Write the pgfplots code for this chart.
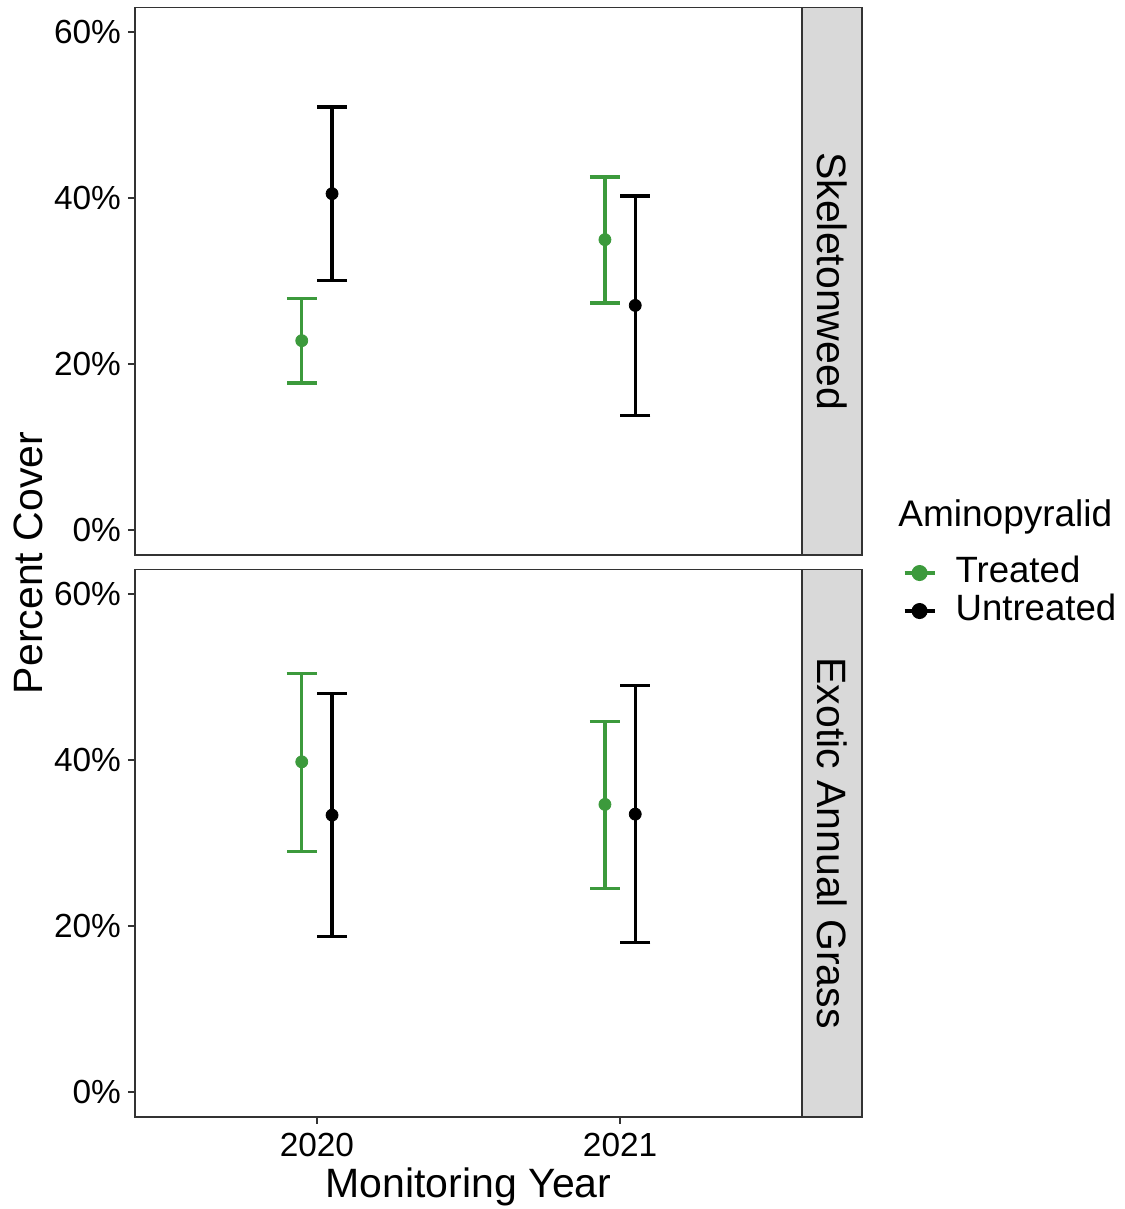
\documentclass[border=0pt]{standalone}
\usepackage{pgfplots}
\usepackage{pgfplotstable}
\pgfplotsset{compat=1.18}
\usepackage{fontspec}
\setmainfont{Liberation Sans}
\definecolor{cgreen}{HTML}{3C9A3C}
\definecolor{grey20}{HTML}{333333}
\definecolor{grey85}{HTML}{D9D9D9}
\pgfplotstableread{
x y lo hi
0.95 22.82 17.73 27.88
1.95 34.99 27.36 42.54
}\topT
\pgfplotstableread{
x y lo hi
1.05 40.53 30.05 50.97
2.05 27.07 13.79 40.25
}\topU
\pgfplotstableread{
x y lo hi
0.95 39.79 28.95 50.44
1.95 34.66 24.50 44.69
}\botT
\pgfplotstableread{
x y lo hi
1.05 33.37 18.72 48.03
2.05 33.49 17.99 48.99
}\botU
\tikzset{strip/.style={font=\fontsize{20.5}{22}\selectfont}}
\begin{document}
\begin{tikzpicture}
\path[use as bounding box] (-67.5pt,-46pt) rectangle (494.5pt,558.5pt);
\pgfplotsset{
  panel/.style={
    width=333.5pt, height=273.9pt, scale only axis,
    xmin=0.4, xmax=2.6, ymin=-3, ymax=63,
    axis line style={grey20, line width=0.6pt},
    tick style={grey20, line width=0.6pt},
    major tick length=3.5pt,
    tick align=outside,
    xtick pos=bottom, ytick pos=left,
    ytick={0,20,40,60},
    yticklabels={0\%,20\%,40\%,60\%},
    tick label style={font=\fontsize{16.7}{18}\selectfont, text=black},
    clip=false,
  },
  errs/.style={
    only marks, mark=*, mark size=3pt, line width=1.6pt, color=#1,
    mark options={solid, line width=0.4pt, fill=#1, draw=#1},
    error bars/y dir=both, error bars/y explicit,
    error bars/error bar style={line width=1.6pt, color=#1},
    error bars/error mark options={line width=1.6pt, mark size=7.5pt, color=#1, rotate=90},
  },
}
% top panel
\begin{axis}[panel, at={(0,281pt)}, anchor=south west, xtick=\empty]
\draw[grey20, line width=0.6pt, fill=grey85] (axis description cs:1,0) rectangle (axis description cs:1.09,1);
\node[strip, rotate=-90] at (axis description cs:1.045,0.5) {Skeletonweed};
\addplot[errs=cgreen] table[x=x, y=y, y error plus expr={\thisrow{hi}-\thisrow{y}}, y error minus expr={\thisrow{y}-\thisrow{lo}}] {\topT};
\addplot[errs=black] table[x=x, y=y, y error plus expr={\thisrow{hi}-\thisrow{y}}, y error minus expr={\thisrow{y}-\thisrow{lo}}] {\topU};
\end{axis}
% bottom panel
\begin{axis}[panel, at={(0,0)}, anchor=south west,
  xtick={1,2}, xticklabels={2020,2021},
  xticklabel style={yshift=-1pt},
  legend style={at={(axis description cs:1.1514,1.0277)}, anchor=north west, draw=none, fill=none,
    inner sep=0pt, outer sep=0pt, row sep=0pt, column sep=0pt,
    nodes={inner sep=0pt, text height=14pt, text depth=5pt},
    font=\fontsize{18.3}{20}\selectfont},
  legend cell align=left]
\draw[grey20, line width=0.6pt, fill=grey85] (axis description cs:1,0) rectangle (axis description cs:1.09,1);
\node[strip, rotate=-90] at (axis description cs:1.045,0.5) {Exotic Annual Grass};
\addplot[legend image code/.code={\path[draw=none, fill=none] (0pt,-0.1pt) rectangle (25.5pt,0.1pt); \draw[cgreen, line width=1.6pt] (0pt,0pt) -- (15pt,0pt); \fill[cgreen] (7.5pt,0pt) circle (3.2pt);}, errs=cgreen] table[x=x, y=y, y error plus expr={\thisrow{hi}-\thisrow{y}}, y error minus expr={\thisrow{y}-\thisrow{lo}}] {\botT};
\addlegendentry{Treated}
\addplot[legend image code/.code={\path[draw=none, fill=none] (0pt,-0.1pt) rectangle (25.5pt,0.1pt); \draw[black, line width=1.6pt] (0pt,0pt) -- (15pt,0pt); \fill[black] (7.5pt,0pt) circle (3.2pt);}, errs=black] table[x=x, y=y, y error plus expr={\thisrow{hi}-\thisrow{y}}, y error minus expr={\thisrow{y}-\thisrow{lo}}] {\botU};
\addlegendentry{Untreated}
\end{axis}
\node[anchor=base west, inner sep=0pt, font=\fontsize{18.5}{20}\selectfont] at (381.5pt,295pt) {Aminopyralid};
\node[rotate=90, inner sep=0pt, font=\fontsize{20.5}{22}\selectfont] at (-53.5pt,277pt) {Percent Cover};
\node[anchor=base, inner sep=0pt, font=\fontsize{20.5}{22}\selectfont] at (166.75pt,-40.5pt) {Monitoring Year};
\end{tikzpicture}
\end{document}
